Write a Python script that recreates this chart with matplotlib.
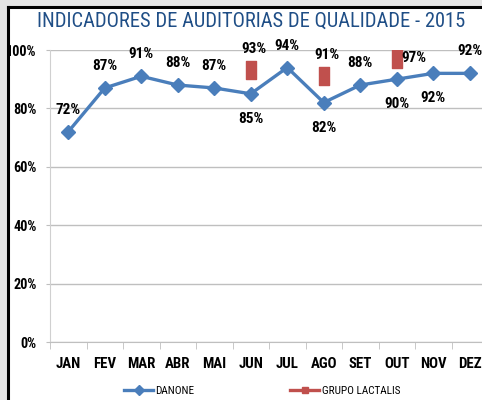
import matplotlib
matplotlib.use("Agg")
import matplotlib.pyplot as plt
from matplotlib.patches import Rectangle
from matplotlib.lines import Line2D
from matplotlib.path import Path
import matplotlib.font_manager as fm
from matplotlib.font_manager import FontProperties

months = ["JAN", "FEV", "MAR", "ABR", "MAI", "JUN", "JUL", "AGO", "SET", "OUT", "NOV", "DEZ"]
danone = [72, 87, 91, 88, 87, 85, 94, 82, 88, 90, 92, 92]
lactalis_months = ["JUN", "AGO", "OUT"]
lactalis = [93, 91, 97]
yticks = [0, 20, 40, 60, 80, 100]
title = "INDICADORES DE AUDITORIAS DE QUALIDADE - 2015"

names = {f.name for f in fm.fontManager.ttflist}
fam = "DejaVu Sans"
for cand in ["Liberation Sans Narrow", "Roboto Condensed", "DejaVu Sans Condensed", "Roboto"]:
    if cand in names:
        fam = cand
        break
plt.rcParams["font.family"] = [fam, "DejaVu Sans"]

W, H = 482, 400
fig = plt.figure(figsize=(W / 100, H / 100), dpi=100)
fig.patch.set_facecolor("#e4e4e4")
renderer = fig.canvas.get_renderer()


def fit(s, target_px, weight="normal", base=10.0):
    fp = FontProperties(family=[fam, "DejaVu Sans"], size=base, weight=weight)
    w, h, d = renderer.get_text_width_height_descent(s, fp, ismath=False)
    return base * target_px / w


# white panel with black left/top border
fig.patches.append(Rectangle((9 / W, 0), 1, 1 - 8 / H, transform=fig.transFigure,
                             facecolor="white", edgecolor="none", zorder=-5))
fig.lines.append(Line2D([8 / W, 8 / W], [0, 1 - 7 / H], transform=fig.transFigure,
                        color="black", lw=2.2, zorder=-4))
fig.lines.append(Line2D([8 / W, 1], [1 - 7 / H, 1 - 7 / H], transform=fig.transFigure,
                        color="black", lw=2.2, zorder=-4))

left, right = 50 / W, 488 / W
bot, top = 1 - 342 / H, 1 - 50 / H
ax = fig.add_axes([left, bot, right - left, top - bot], zorder=2)
ax.set_facecolor("none")

x = list(range(len(months)))
ax.plot(x, danone, color="#4a7ebb", lw=2.4, marker="D", ms=7.5, zorder=3,
        clip_on=False)

rect = Path([(-0.3, -0.5), (0.3, -0.5), (0.3, 0.5), (-0.3, 0.5), (-0.3, -0.5)],
            [Path.MOVETO, Path.LINETO, Path.LINETO, Path.LINETO, Path.CLOSEPOLY])
lx = [months.index(m) for m in lactalis_months]
ax.plot(lx, lactalis, ls="none", marker=rect, ms=12.5, color="#c0504d", zorder=3)

k = 1.1
lab_size = fit("93%", 23, "bold") * k
tick_size = fit("ABR", 23, "bold") * k
ytick_size = fit("100%", 28, "bold") * k
title_size = fit(title, 427, "normal")
leg_size = fit("GRUPO LACTALIS", 75, "normal") * 1.05

# data labels
below = {"JUN", "AGO", "OUT", "NOV"}
for i, (m, v) in enumerate(zip(months, danone)):
    dy = -25 if m in below else 22
    ax.annotate(f"{v}%", (i, v), xytext=(0, dy), textcoords="offset pixels",
                ha="center", va="center", fontsize=lab_size, fontweight="bold",
                color="black")
for i, m, v in zip(lx, lactalis_months, lactalis):
    if m == "OUT":
        ax.annotate(f"{v}%", (i, v), xytext=(17, 1), textcoords="offset pixels",
                    ha="center", va="center", fontsize=lab_size, fontweight="bold")
    else:
        ax.annotate(f"{v}%", (i, v), xytext=(3, 21), textcoords="offset pixels",
                    ha="center", va="center", fontsize=lab_size, fontweight="bold")

ax.set_xlim(-0.5, len(months) - 0.5)
ax.set_ylim(0, 100)
ax.set_yticks(yticks)
ax.set_yticklabels([f"{t}%" for t in yticks], fontsize=ytick_size, fontweight="bold")
ax.set_xticks(x)
ax.set_xticklabels(months, fontsize=tick_size, fontweight="bold")
ax.set_xticks([i - 0.5 for i in range(len(months) + 1)], minor=True)
ax.tick_params(axis="x", which="major", length=0, pad=10.5)
ax.tick_params(axis="x", which="minor", length=5, color="#bfbfbf", direction="out")
ax.tick_params(axis="y", length=3, color="#bfbfbf", pad=6.5)
ax.grid(axis="y", color="#bfbfbf", lw=1)
ax.set_axisbelow(True)
for s in ["top", "right"]:
    ax.spines[s].set_visible(False)
ax.spines["left"].set_color("#d0d0d0")
ax.spines["bottom"].set_color("#bfbfbf")

fig.text(251 / W, 1 - 21 / H, title, ha="center", va="center", fontsize=title_size,
         color="#1f4e86")

# legend
h1 = Line2D([], [], color="#4a7ebb", lw=2.4, marker="D", ms=5)
h2 = Line2D([], [], color="#c0504d", lw=2.4, marker="s", ms=5)
fig.legend([h1, h2], ["DANONE", "GRUPO LACTALIS"], loc="center",
           bbox_to_anchor=(262 / W, 1 - 391 / H), ncol=2, frameon=False,
           fontsize=leg_size, columnspacing=8.5, handlelength=2.6, handletextpad=0.2)

fig.savefig("out.png", dpi=100, facecolor=fig.get_facecolor())
